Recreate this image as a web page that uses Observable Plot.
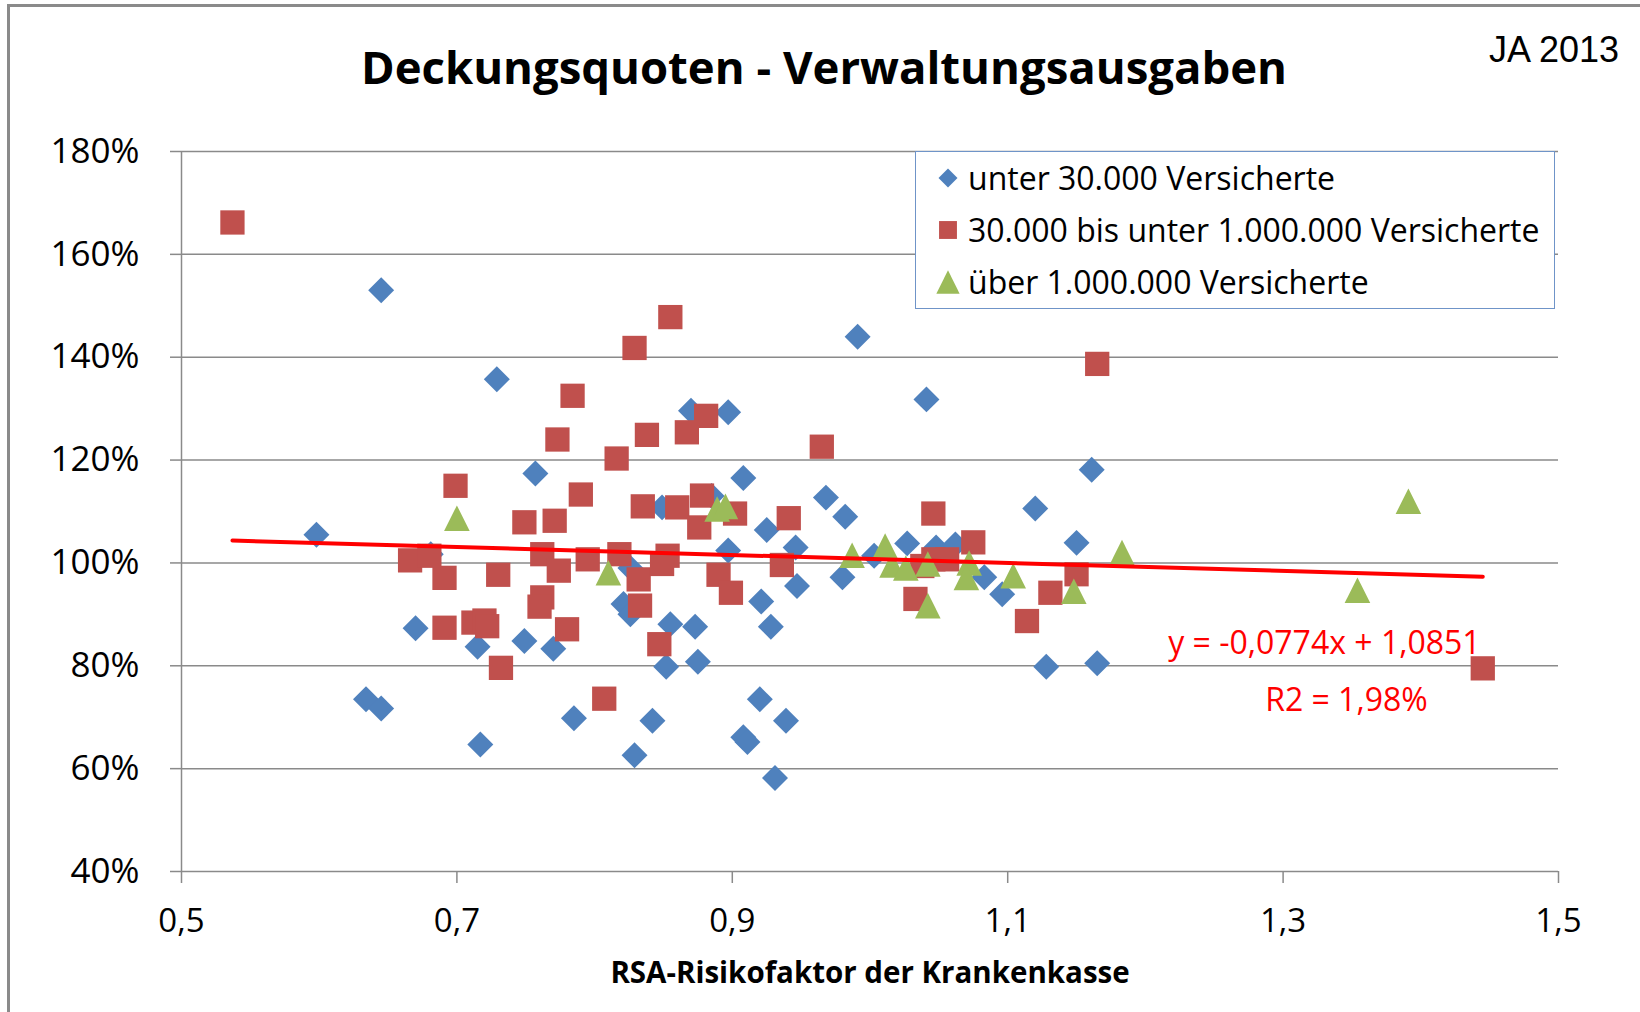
<!DOCTYPE html>
<html>
<head>
<meta charset="utf-8">
<script src="https://cdn.jsdelivr.net/npm/d3@7"></script>
<script src="https://cdn.jsdelivr.net/npm/@observablehq/plot@0.6"></script>
<style>
html,body{margin:0;padding:0;background:#fff;overflow:hidden;}
#wrap{position:relative;width:1640px;height:1012px;font-family:"Open Sans",sans-serif;color:#000;}
#border{position:absolute;left:7px;top:4px;width:1700px;height:1100px;border-left:3px solid #8a8a8a;border-top:3px solid #8a8a8a;pointer-events:none;}
#chart{position:absolute;left:0;top:0;}
#title{position:absolute;left:0;width:1648px;top:44px;text-align:center;font-weight:700;font-size:45.5px;line-height:45px;white-space:nowrap;}
#ja{position:absolute;right:21px;top:32px;font-family:"Liberation Sans",Arial,sans-serif;font-size:36px;line-height:36px;}
#legend{position:absolute;left:915px;top:151px;width:638px;height:156px;border:1.5px solid #6f94c8;background:#fff;}
.row{position:absolute;left:0;height:32px;display:flex;align-items:center;font-size:32px;line-height:32px;white-space:nowrap;}
.row svg{width:26px;height:26px;margin-left:19px;margin-right:7px;}
</style>
</head>
<body>
<div id="wrap">
  <div id="chart"></div>
  <div id="border"></div>
  <div id="title"></div>
  <div id="ja"></div>
  <div id="legend"></div>
</div>
<script>
// ---------- data ----------
const chartTitle = "Deckungsquoten - Verwaltungsausgaben";
const yearLabel = "JA 2013";
const xAxisLabel = "RSA-Risikofaktor der Krankenkasse";
const seriesNames = ["unter 30.000 Versicherte", "30.000 bis unter 1.000.000 Versicherte", "über 1.000.000 Versicherte"];
const xTicks = [0.5, 0.7, 0.9, 1.1, 1.3, 1.5];
const yTicks = [0.4, 0.6, 0.8, 1.0, 1.2, 1.4, 1.6, 1.8];

// unter 30.000 Versicherte
const blueX = [0.598, 0.645, 0.729, 0.757, 0.681, 0.670, 0.715, 0.749, 0.770, 0.634, 0.645, 0.717, 0.785, 0.842, 0.829, 0.826, 0.821, 0.826, 0.849, 0.855, 0.873, 0.852, 0.875, 0.870, 0.897, 0.885, 0.908, 0.925, 0.968, 0.982, 0.991, 1.041, 0.946, 0.897, 0.947, 0.921, 0.928, 0.920, 0.939, 0.908, 0.911, 0.931, 1.003, 0.980, 1.027, 1.048, 1.062, 1.083, 1.096, 1.120, 1.161, 1.150, 1.128, 1.165];
const blueY = [1.055, 1.530, 1.357, 1.174, 1.017, 0.873, 0.837, 0.848, 0.833, 0.735, 0.717, 0.647, 0.698, 0.693, 0.626, 0.990, 0.920, 0.900, 1.108, 0.881, 0.876, 0.798, 0.808, 1.296, 1.293, 1.130, 1.165, 1.064, 1.127, 1.090, 1.440, 1.318, 1.030, 1.024, 0.955, 0.925, 0.876, 0.735, 0.693, 0.661, 0.652, 0.582, 1.014, 0.972, 1.038, 1.030, 1.036, 0.972, 0.939, 1.106, 1.181, 1.039, 0.798, 0.805];

// 30.000 bis unter 1.000.000 Versicherte
const redX = [0.537, 0.855, 0.829, 0.784, 0.773, 0.838, 0.816, 0.699, 0.790, 0.835, 0.749, 0.771, 0.666, 0.680, 0.691, 0.730, 0.762, 0.774, 0.795, 0.818, 0.832, 0.833, 0.762, 0.760, 0.691, 0.712, 0.720, 0.722, 0.780, 0.732, 0.847, 0.807, 0.881, 0.867, 0.965, 1.046, 0.860, 0.878, 0.902, 0.876, 0.941, 0.853, 0.849, 0.890, 0.899, 0.936, 1.038, 1.033, 1.046, 1.056, 1.075, 1.114, 1.131, 1.165, 1.150, 1.445];
const redY = [1.662, 1.478, 1.418, 1.325, 1.240, 1.249, 1.203, 1.150, 1.133, 1.110, 1.079, 1.082, 1.005, 1.014, 0.971, 0.977, 1.017, 0.985, 1.007, 1.017, 0.968, 0.917, 0.933, 0.915, 0.874, 0.884, 0.888, 0.877, 0.871, 0.796, 0.842, 0.736, 1.286, 1.254, 1.226, 1.096, 1.108, 1.131, 1.096, 1.069, 1.087, 1.014, 0.998, 0.977, 0.942, 0.996, 0.994, 0.930, 1.007, 1.007, 1.040, 0.887, 0.942, 1.387, 0.978, 0.795];

// über 1.000.000 Versicherte
const greenX = [0.700, 0.810, 0.889, 0.895, 0.987, 1.011, 1.016, 1.026, 1.042, 1.042, 1.072, 1.070, 1.104, 1.183, 1.148, 1.354, 1.391];
const greenY = [1.087, 0.981, 1.105, 1.110, 1.015, 1.033, 0.996, 0.990, 0.917, 0.998, 1.000, 0.972, 0.975, 1.020, 0.945, 0.947, 1.120];

// trend line (y = -0,0774x + 1,0851) end points over the data range
const trendX = [0.537, 1.445];
const trendY = [1.0435, 0.9733];
const eqLabels = ["y = -0,0774x + 1,0851", "R2 = 1,98%"];
const eqX = [1.330, 1.346];
const eqY = [0.8425, 0.7315];

const colors = ["#4f81bd", "#c0504d", "#9bbb59"];

// ---------- build ----------
const toRows = (xs, ys) => xs.map((x, i) => ({x, y: ys[i]}));
const blue = toRows(blueX, blueY);
const red = toRows(redX, redY);
const green = toRows(greenX, greenY);

const triangle = {
  draw(ctx, size) {
    const a = Math.sqrt(size / Math.PI);
    const w = a * 1.28, h = a * 1.28;
    ctx.moveTo(0, -h); ctx.lineTo(w, h); ctx.lineTo(-w, h); ctx.closePath();
  }
};

const gridColor = "#8a8a8a";
const chart = Plot.plot({
  width: 1640, height: 1012,
  marginLeft: 181, marginRight: 82, marginTop: 151, marginBottom: 141,
  style: {background: "transparent", fontFamily: "'Open Sans', sans-serif", color: "#000"},
  x: {domain: [0.5, 1.5]},
  y: {domain: [0.4, 1.8]},
  marks: [
    Plot.gridY(yTicks, {stroke: gridColor, strokeOpacity: 1, strokeWidth: 1.5}),
    Plot.axisY(yTicks, {tickSize: 11, tickPadding: 31, stroke: gridColor, strokeWidth: 1.5, fontSize: 35,
      tickFormat: d => Math.round(d * 100) + "%", label: null}),
    Plot.axisX(xTicks, {tickSize: 12, tickPadding: 25, stroke: gridColor, strokeWidth: 1.5, fontSize: 33,
      tickFormat: d => d.toFixed(1).replace(".", ","), label: null}),
    Plot.ruleX([0.5], {stroke: gridColor, strokeWidth: 1.5}),
    Plot.dot(blue, {x: "x", y: "y", symbol: "diamond2", r: 11.7, fill: colors[0]}),
    Plot.dot(red, {x: "x", y: "y", symbol: "square", r: 13.7, fill: colors[1]}),
    Plot.dot(green, {x: "x", y: "y", symbol: triangle, r: 10, fill: colors[2]}),
    Plot.line(trendX.map((x, i) => ({x, y: trendY[i]})), {x: "x", y: "y", stroke: "#ff0000", strokeWidth: 4}),
    Plot.text(eqLabels, {x: eqX, y: eqY, text: d => d, fill: "#ff0000", fontSize: 32}),
    Plot.text([xAxisLabel], {frameAnchor: "bottom", dy: 111, text: d => d, fontSize: 29.5, fontWeight: "bold"})
  ]
});
document.getElementById("chart").appendChild(chart);
document.getElementById("title").textContent = chartTitle;
document.getElementById("ja").textContent = yearLabel;

// legend
const legend = d3.select("#legend");
const legendSymbols = [d3.symbolDiamond2, d3.symbolSquare, triangle];
const legendSizes = [230, 320, 260];
const rowTops = [10, 62, 114];
seriesNames.forEach((name, i) => {
  const row = legend.append("div").attr("class", "row").style("top", rowTops[i] + "px");
  const svg = row.append("svg").attr("viewBox", "-13 -13 26 26");
  svg.append("path").attr("d", d3.symbol(legendSymbols[i], legendSizes[i])()).attr("fill", colors[i]);
  row.append("span").text(name);
});
</script>
</body>
</html>
